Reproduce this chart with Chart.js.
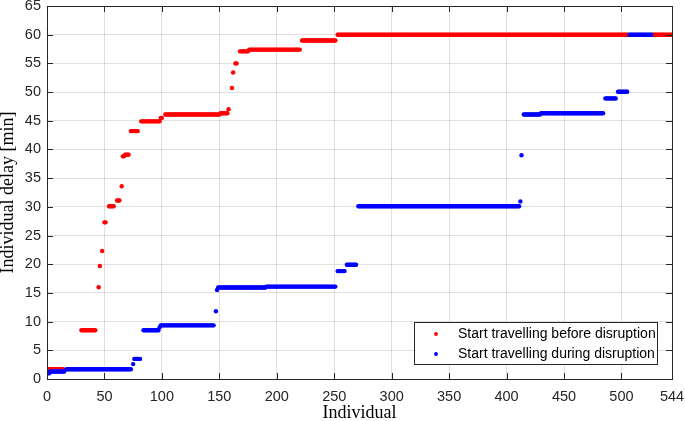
<!DOCTYPE html>
<html>
<head>
<meta charset="utf-8">
<script src="https://cdn.jsdelivr.net/npm/chart.js@4.4.0/dist/chart.umd.min.js"></script>
<style>
  html, body { margin: 0; padding: 0; background: #fff; }
  canvas { display: block; }
</style>
</head>
<body>
<canvas id="delayChart" width="685" height="421"></canvas>
<script>
// Plateaus: individuals from..to share one delay [min]
const redFrom  = [1, 30, 45, 46, 48, 50, 54, 61, 65, 66, 68, 73, 82, 99, 103, 151, 158, 161, 162, 164, 168, 176, 222, 253, 527];
const redTo    = [14, 42, 45, 46, 48, 51, 58, 63, 65, 67, 71, 79, 98, 100, 150, 157, 158, 161, 162, 165, 175, 220, 251, 506, 544];
const redDelay = [1.7, 8.5, 16.0, 19.7, 22.3, 27.3, 30.1, 31.1, 33.6, 38.8, 39.1, 43.2, 44.9, 45.5, 46.1, 46.3, 47.0, 50.7, 53.4, 55.0, 57.1, 57.4, 59.0, 60, 60];

const blueFrom  = [1, 3, 17, 75, 76, 84, 98, 99, 147, 148, 149, 191, 253, 261, 271, 412, 413, 415, 430, 486, 497, 507];
const blueTo    = [2, 15, 73, 75, 81, 97, 98, 145, 147, 148, 190, 251, 259, 269, 411, 412, 413, 429, 484, 495, 505, 526];
const blueDelay = [1.0, 1.3, 1.7, 2.6, 3.5, 8.5, 9.0, 9.35, 11.8, 15.5, 15.95, 16.1, 18.8, 19.9, 30.1, 30.95, 39.0, 46.1, 46.3, 48.9, 50.05, 60];

const xTicks = [0, 50, 100, 150, 200, 250, 300, 350, 400, 450, 500, 544];
const legendLabels = ["Start travelling before disruption", "Start travelling during disruption"];

function toPoints(from, to, delay) {
    const pts = [];
    from.forEach((f, i) => {
        for (let x = f; x <= to[i]; x++) pts.push({ x: x, y: delay[i] });
    });
    return pts;
}

const axisColor = "#262626";
const tickFont = { family: "'Liberation Sans', Arial, sans-serif", size: 14.5 };
const titleFont = { family: "'Liberation Serif', 'Times New Roman', serif", size: 18, lineHeight: 1 };

// frame with inward ticks + legend box inside the plot
const framePlugin = {
    id: "frame",
    afterDraw(chart) {
        const { ctx, chartArea: a, scales } = chart;
        ctx.save();
        ctx.strokeStyle = axisColor;
        ctx.lineWidth = 1;
        ctx.strokeRect(Math.round(a.left) + 0.5, Math.round(a.top) + 0.5,
            Math.round(a.right - a.left), Math.round(a.bottom - a.top));
        ctx.beginPath();
        xTicks.forEach(v => {
            const px = Math.round(scales.x.getPixelForValue(v)) + 0.5;
            ctx.moveTo(px, a.bottom); ctx.lineTo(px, a.bottom - 6);
            ctx.moveTo(px, a.top); ctx.lineTo(px, a.top + 6);
        });
        scales.y.ticks.forEach(t => {
            const py = Math.round(scales.y.getPixelForValue(t.value)) + 0.5;
            ctx.moveTo(a.left, py); ctx.lineTo(a.left + 6, py);
            ctx.moveTo(a.right, py); ctx.lineTo(a.right - 6, py);
        });
        ctx.stroke();

        // legend
        const lx = 414.5, ly = 322.5, lw = 243, lh = 42;
        ctx.fillStyle = "#fff";
        ctx.fillRect(lx, ly, lw, lh);
        ctx.strokeStyle = axisColor;
        ctx.strokeRect(lx, ly, lw, lh);
        ctx.font = "14px 'Liberation Sans', Arial, sans-serif";
        ctx.textBaseline = "middle";
        ctx.textAlign = "left";
        chart.data.datasets.forEach((ds, i) => {
            const cy = 334 + i * 20;
            ctx.fillStyle = ds.backgroundColor;
            ctx.beginPath();
            ctx.arc(436, cy, 1.9, 0, Math.PI * 2);
            ctx.fill();
            ctx.fillStyle = "#000";
            ctx.fillText(legendLabels[i], 458, cy);
        });
        ctx.restore();
    }
};

const ctx = document.getElementById("delayChart").getContext("2d");
new Chart(ctx, {
    type: "scatter",
    data: {
        datasets: [{
            label: legendLabels[0],
            data: toPoints(redFrom, redTo, redDelay),
            backgroundColor: "#ff0000",
            pointRadius: 2.2,
            borderWidth: 0,
            order: 2
        }, {
            label: legendLabels[1],
            data: toPoints(blueFrom, blueTo, blueDelay),
            backgroundColor: "#0000ff",
            pointRadius: 2.2,
            borderWidth: 0,
            order: 1
        }]
    },
    options: {
        responsive: false,
        animation: false,
        layout: { padding: { top: 6, right: 13, left: 0, bottom: 0 } },
        plugins: { legend: { display: false }, tooltip: { enabled: false } },
        scales: {
            x: {
                type: "linear",
                min: 0,
                max: 544,
                afterBuildTicks: scale => { scale.ticks = xTicks.map(v => ({ value: v })); },
                afterFit: scale => {
                    scale.height = 42;
                    scale.paddingLeft = 0;
                    scale.paddingRight = 0;
                },
                grid: { color: "rgba(0,0,0,0.12)", drawTicks: false },
                border: { display: false },
                ticks: { color: axisColor, font: tickFont, padding: 9, maxRotation: 0, autoSkip: false },
                title: { display: true, text: "Individual", color: "#000", font: titleFont, padding: { top: 0, bottom: -1 } }
            },
            y: {
                min: 0,
                max: 65,
                afterFit: scale => {
                    scale.width = 47;
                    scale.paddingTop = 0;
                    scale.paddingBottom = 0;
                },
                grid: { color: "rgba(0,0,0,0.12)", drawTicks: false },
                border: { display: false },
                ticks: { stepSize: 5, color: axisColor, font: tickFont, padding: 6 },
                title: { display: true, text: "Individual delay [min]", color: "#000", font: titleFont, padding: { top: -1, bottom: 0 } }
            }
        }
    },
    plugins: [framePlugin]
});
</script>
</body>
</html>
